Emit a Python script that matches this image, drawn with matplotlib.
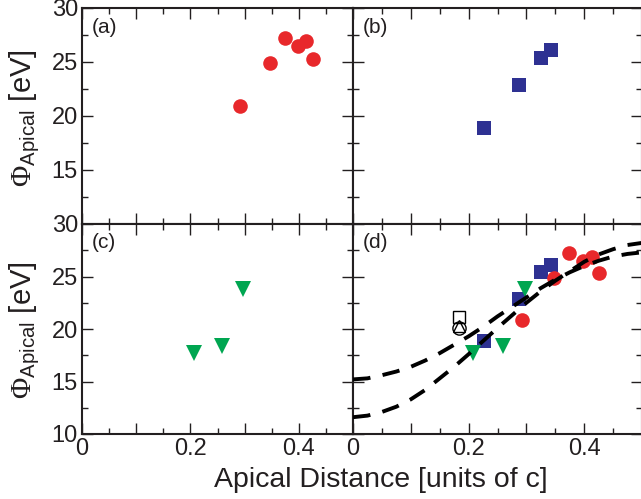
"""Apical potential vs apical distance, four-panel comparison."""

import matplotlib
matplotlib.use("Agg")
import matplotlib.pyplot as plt
from matplotlib.ticker import MultipleLocator, FuncFormatter

plt.rcParams["font.family"] = ["Liberation Sans", "DejaVu Sans"]
plt.rcParams["mathtext.fontset"] = "custom"
plt.rcParams["mathtext.rm"] = "Liberation Serif"
plt.rcParams["mathtext.sf"] = "Liberation Sans"

TEXT = "#231f20"
RED = "#e8282b"
BLUE = "#2e3192"
GREEN = "#00a651"

# panel (a): circles
circle_x = [0.292, 0.347, 0.374, 0.398, 0.413, 0.426]
circle_y = [20.9, 24.9, 27.25, 26.5, 26.9, 25.3]

# panel (b): squares
square_x = [0.227, 0.288, 0.326, 0.343]
square_y = [18.9, 22.9, 25.4, 26.1]

# panel (c): down triangles
tri_x = [0.207, 0.259, 0.297]
tri_y = [17.7, 18.4, 23.8]

# panel (d): open reference points
open_x = 0.183
open_square_y = 21.1
open_circle_y = 20.1
open_tri_y = 20.3

# dashed model curves
curve_x = [0.0, 0.025, 0.05, 0.075, 0.1, 0.125, 0.15, 0.175, 0.2, 0.225, 0.25,
           0.275, 0.3, 0.325, 0.35, 0.375, 0.4, 0.425, 0.45, 0.475, 0.5]
curve_a = [15.2, 15.3, 15.6, 15.95, 16.4, 17.0, 17.7, 18.5, 19.3, 20.2, 21.2,
           22.1, 23.0, 23.9, 24.7, 25.4, 26.0, 26.5, 26.9, 27.15, 27.3]
curve_b = [11.6, 11.75, 12.1, 12.6, 13.3, 14.2, 15.3, 16.4, 17.6, 18.85, 20.1,
           21.3, 22.5, 23.6, 24.6, 25.5, 26.4, 27.1, 27.6, 28.0, 28.2]


def x_fmt(value, _pos):
    if abs(value) < 1e-9:
        return "0"
    if abs(value - 0.2) < 1e-9 or abs(value - 0.4) < 1e-9:
        return f"{value:.1f}"
    return ""


def style_axis(ax, show_x, show_y, hide_bottom_y):
    ax.set_xlim(0, 0.5)
    ax.set_ylim(10, 30)
    ax.xaxis.set_major_locator(MultipleLocator(0.1))
    ax.xaxis.set_minor_locator(MultipleLocator(0.05))
    ax.yaxis.set_major_locator(MultipleLocator(5))
    ax.yaxis.set_minor_locator(MultipleLocator(2.5))
    ax.tick_params(which="both", direction="in", top=True, right=True,
                   color=TEXT, labelcolor=TEXT, labelsize=17, width=1.0)
    ax.tick_params(which="major", length=8, pad=3)
    ax.tick_params(which="minor", length=4.5)
    for spine in ax.spines.values():
        spine.set_linewidth(1.5)
        spine.set_color(TEXT)
    if show_x:
        ax.xaxis.set_major_formatter(FuncFormatter(x_fmt))
    else:
        ax.tick_params(labelbottom=False)
    if show_y:
        if hide_bottom_y:
            ax.yaxis.set_major_formatter(
                FuncFormatter(lambda v, _p: "" if v < 12 else f"{v:.0f}"))
    else:
        ax.tick_params(labelleft=False)


fig = plt.figure(figsize=(6.41, 4.99), dpi=100)
W, H = 641.0, 499.0
left, mid, right = 82, 353, 642
top, hmid, bottom = 8, 224, 434

ax_a = fig.add_axes([left / W, 1 - hmid / H, (mid - left) / W, (hmid - top) / H])
ax_b = fig.add_axes([mid / W, 1 - hmid / H, (right - mid) / W, (hmid - top) / H])
ax_c = fig.add_axes([left / W, 1 - bottom / H, (mid - left) / W, (bottom - hmid) / H])
ax_d = fig.add_axes([mid / W, 1 - bottom / H, (right - mid) / W, (bottom - hmid) / H])

style_axis(ax_a, False, True, True)
style_axis(ax_b, False, False, True)
style_axis(ax_c, True, True, False)
style_axis(ax_d, True, False, False)

ms_circle, ms_square, ms_tri = 10.5, 10, 11

ax_a.plot(circle_x, circle_y, "o", color=RED, ms=ms_circle, mew=0)
ax_b.plot(square_x, square_y, "s", color=BLUE, ms=ms_square, mew=0)
ax_c.plot(tri_x, tri_y, "v", color=GREEN, ms=ms_tri, mew=0)

ax_d.plot(square_x, square_y, "s", color=BLUE, ms=ms_square, mew=0, zorder=2)
ax_d.plot(circle_x, circle_y, "o", color=RED, ms=ms_circle, mew=0, zorder=2)
ax_d.plot(tri_x, tri_y, "v", color=GREEN, ms=ms_tri, mew=0, zorder=2)
ax_d.plot([open_x], [open_square_y], "s", mfc="none", mec="black", ms=8.5, mew=1.0, zorder=3)
ax_d.plot([open_x], [open_circle_y], "o", mfc="none", mec="black", ms=9.5, mew=1.0, zorder=3)
ax_d.plot([open_x], [open_tri_y], "^", mfc="none", mec="black", ms=8, mew=1.0, zorder=3)
for ys in (curve_a, curve_b):
    ax_d.plot(curve_x, ys, color="black", lw=2.8, dashes=(4.5, 3.2), zorder=4)

for ax, tag in ((ax_a, "(a)"), (ax_b, "(b)"), (ax_c, "(c)"), (ax_d, "(d)")):
    ax.text(0.035, 0.955, tag, transform=ax.transAxes, ha="left", va="top",
            fontsize=15, color=TEXT)

ylabel = r"$\Phi_{\mathsf{Apical}}$ [eV]"
fig.text(25 / W, 1 - 118 / H, ylabel, rotation=90, ha="center", va="center",
         fontsize=21, color=TEXT)
fig.text(25 / W, 1 - 330 / H, ylabel, rotation=90, ha="center", va="center",
         fontsize=21, color=TEXT)
fig.text(381 / W, 1 - 480 / H, "Apical Distance [units of c]", ha="center",
         va="center", fontsize=20.5, color=TEXT)

fig.savefig("out.png", dpi=100)
